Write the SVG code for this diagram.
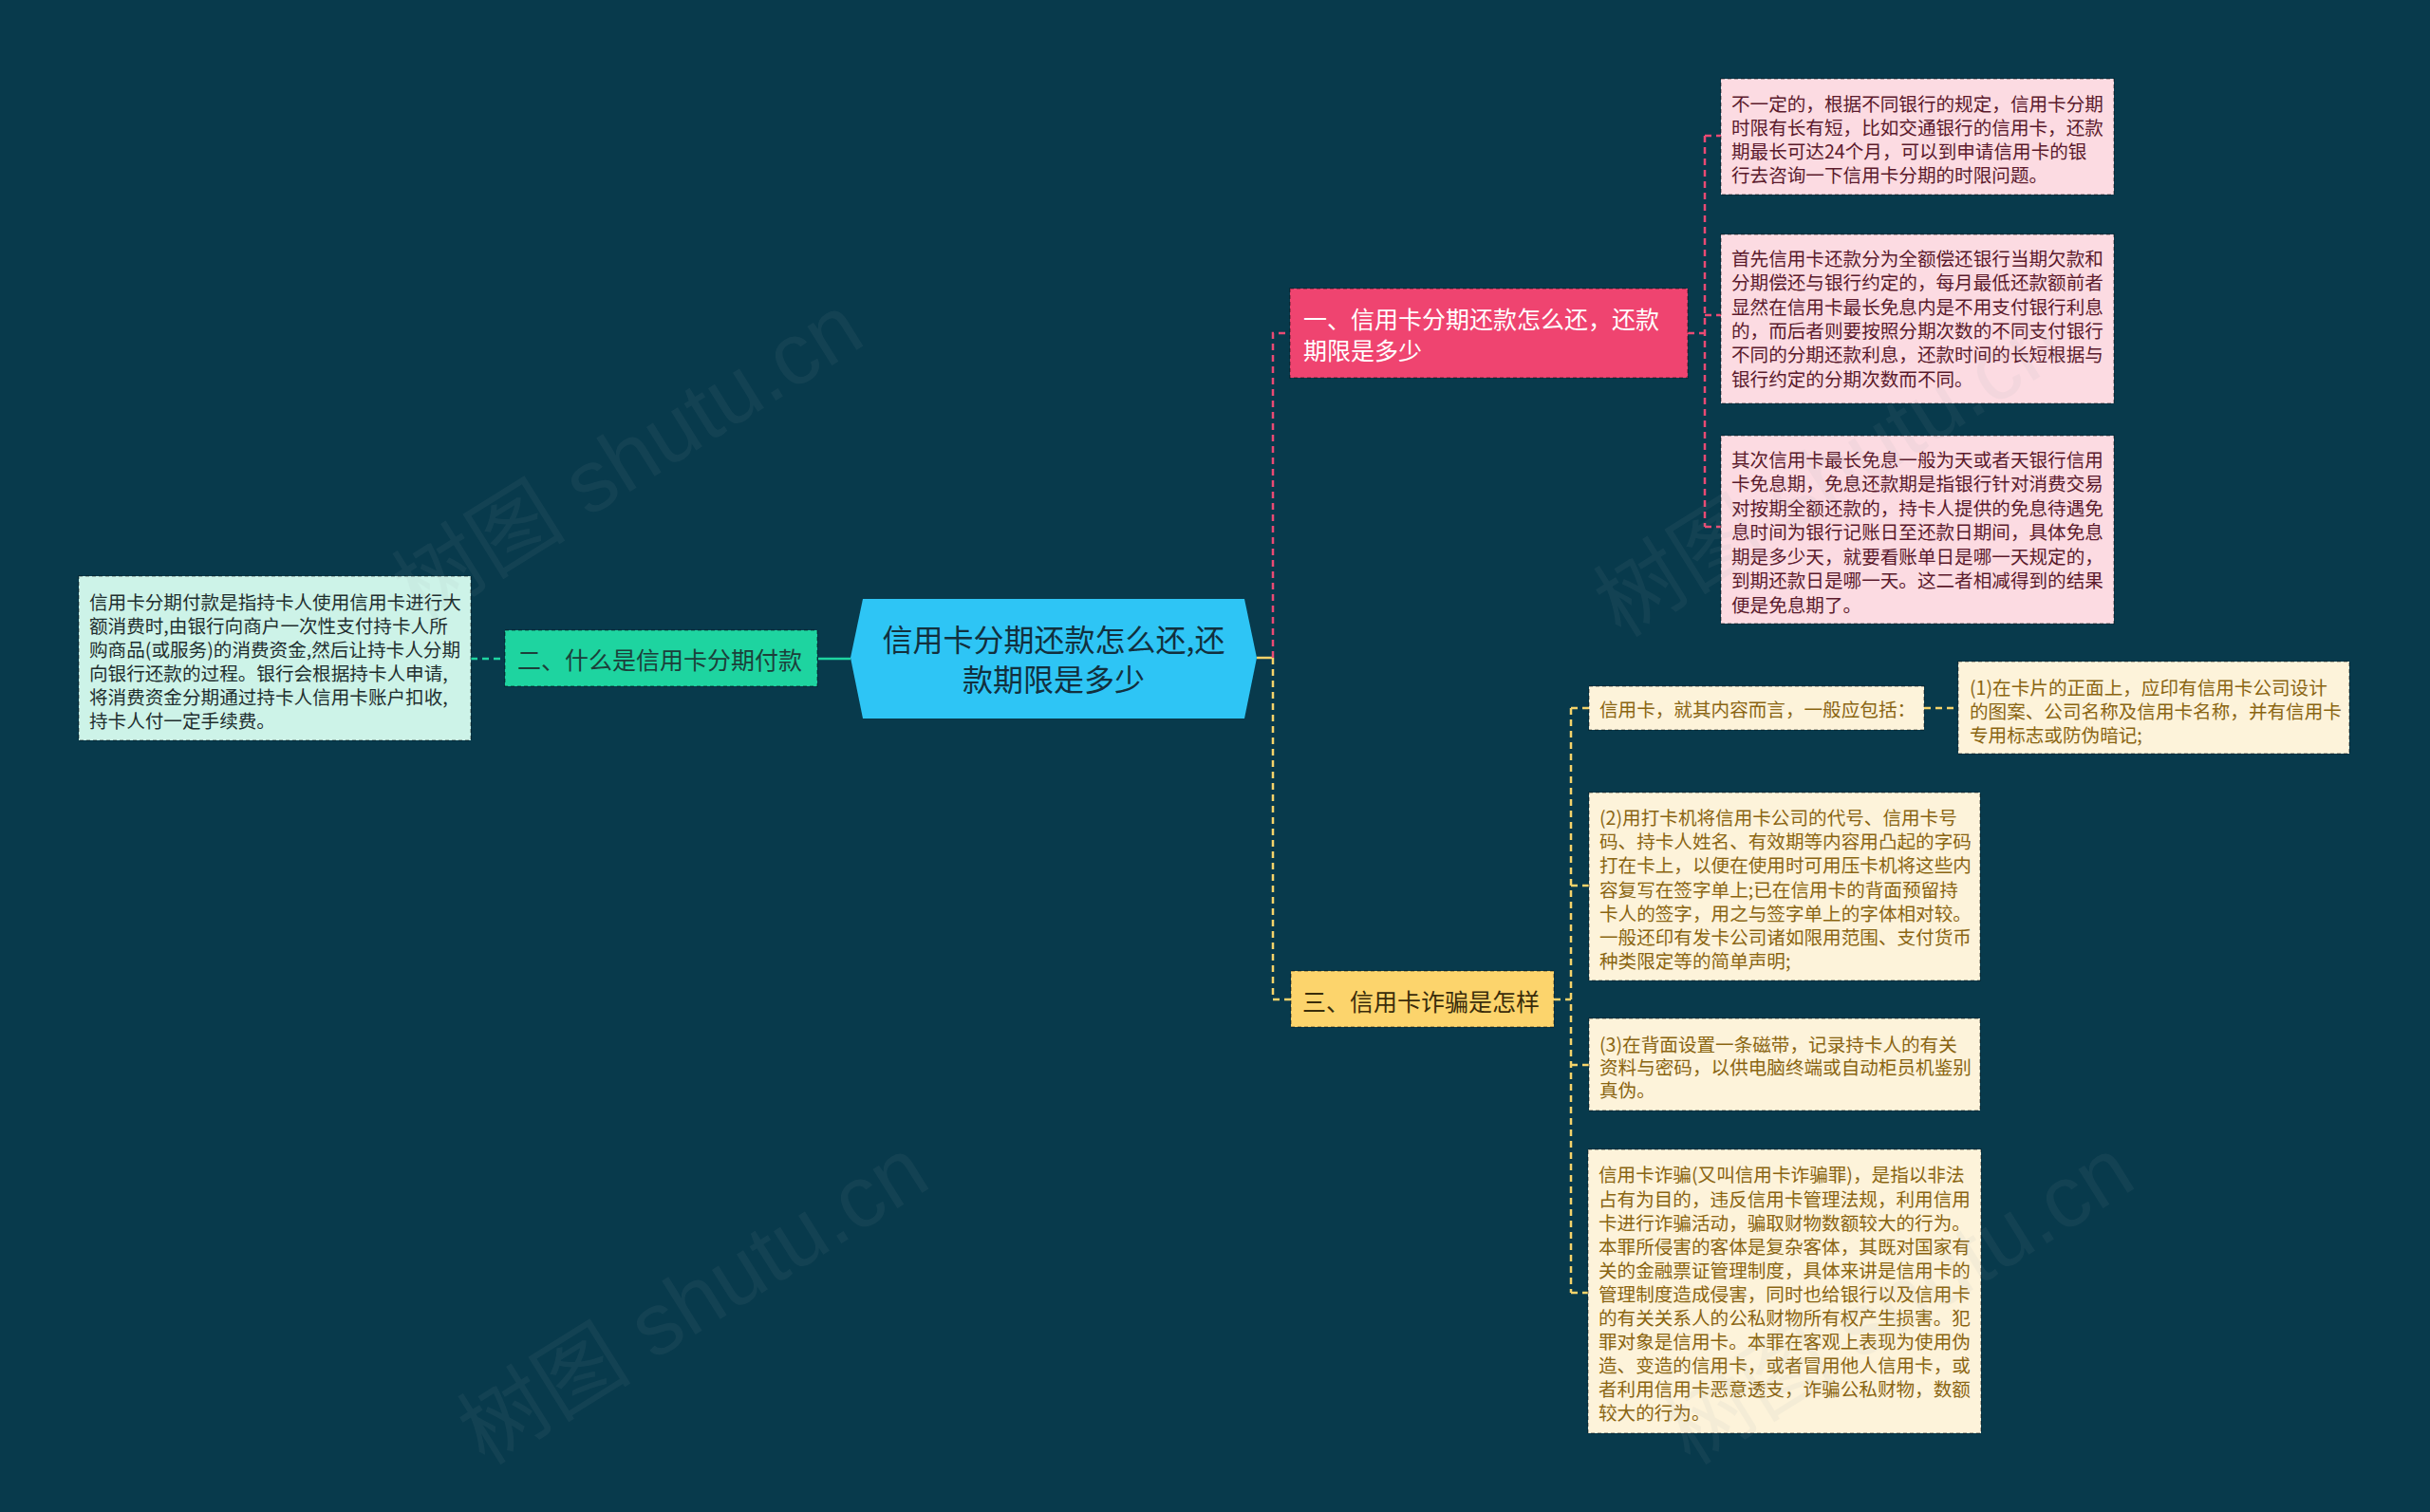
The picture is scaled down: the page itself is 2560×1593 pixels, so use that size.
<svg xmlns="http://www.w3.org/2000/svg" width="2560" height="1593" viewBox="0 0 2560 1593">
<style>
text{font-family:"Noto Sans CJK SC","Noto Sans",sans-serif;dominant-baseline:central}
.box{stroke:rgba(0,0,0,0.35);stroke-width:1.5;stroke-dasharray:4 3}
.leaf{font-size:19.6px}
.pk{fill:#5b1a2c}
.yl{fill:#8a6512}
.mt{fill:#1f2f2f}
.cp{fill:none;stroke:#ea4a73;stroke-width:2.5;stroke-dasharray:7 5}
.cy{fill:none;stroke:#f5d36a;stroke-width:2.5;stroke-dasharray:7 5}
.ct{fill:none;stroke:#1ed4a0;stroke-width:2.5}
.wm{font-family:"Liberation Sans","Noto Sans CJK SC",sans-serif;font-size:92px;fill:#9aa6aa;opacity:0.08}
</style>
<rect width="2560" height="1593" fill="#083a4c"/>
<g id="connectors">
<path class="ct" d="M862 694 H896"/>
<path class="ct" d="M496 694 H532" stroke-dasharray="7 5"/>
<path d="M1324 693 H1341" fill="none" stroke="#f5d36a" stroke-width="2.5"/>
<path class="cp" d="M1341 693 V351 H1359"/>
<path class="cy" d="M1341 693 V1053 H1360"/>
<path class="cp" d="M1778 351 H1796 M1796 143 V555 M1796 143 H1813 M1796 332 H1813 M1796 555 H1813"/>
<path class="cy" d="M1637 1053 H1655 M1655 746 V1362 M1655 746 H1674 M1655 933 H1674 M1655 1122 H1674 M1655 1362 H1673 M2027 746 H2063"/>
</g>
<g id="center">
<polygon points="909,631 1311,631 1324,693 1311,757 909,757 896,693" fill="#2ec5f5"/>
<text x="1110" y="672" font-size="32" fill="#12303e" text-anchor="middle">信用卡分期还款怎么还,还</text>
<text x="1110" y="714" font-size="32" fill="#12303e" text-anchor="middle">款期限是多少</text>
</g>
<g id="n2">
<rect class="box" x="532" y="664" width="329" height="59" fill="#1ed4a0"/>
<text x="545" y="694" font-size="25" fill="#1c3f3a">二、什么是信用卡分期付款</text>
</g>
<g id="n2-leaf">
<rect class="box" x="83" y="607" width="413" height="173" fill="#cdf3e8"/>
<text class="leaf mt" x="94"><tspan x="94" y="633">信用卡分期付款是指持卡人使用信用卡进行大</tspan><tspan x="94" y="658">额消费时,由银行向商户一次性支付持卡人所</tspan><tspan x="94" y="683">购商品(或服务)的消费资金,然后让持卡人分期</tspan><tspan x="94" y="708">向银行还款的过程。银行会根据持卡人申请,</tspan><tspan x="94" y="733">将消费资金分期通过持卡人信用卡账户扣收,</tspan><tspan x="94" y="758">持卡人付一定手续费。</tspan></text>
</g>
<g id="n1">
<rect class="box" x="1359" y="304" width="419" height="94" fill="#ef4470"/>
<text x="1373" y="335" font-size="25" fill="#ffffff">一、信用卡分期还款怎么还，还款</text>
<text x="1373" y="368" font-size="25" fill="#ffffff">期限是多少</text>
</g>
<g id="n1-leaf1">
<rect class="box" x="1813" y="83" width="414" height="122" fill="#fcdbe2"/>
<text class="leaf pk"><tspan x="1824" y="108">不一定的，根据不同银行的规定，信用卡分期</tspan><tspan x="1824" y="133">时限有长有短，比如交通银行的信用卡，还款</tspan><tspan x="1824" y="158">期最长可达24个月，可以到申请信用卡的银</tspan><tspan x="1824" y="183">行去咨询一下信用卡分期的时限问题。</tspan></text>
</g>
<g id="n1-leaf2">
<rect class="box" x="1813" y="247" width="414" height="178" fill="#fcdbe2"/>
<text class="leaf pk"><tspan x="1824" y="271">首先信用卡还款分为全额偿还银行当期欠款和</tspan><tspan x="1824" y="296">分期偿还与银行约定的，每月最低还款额前者</tspan><tspan x="1824" y="322">显然在信用卡最长免息内是不用支付银行利息</tspan><tspan x="1824" y="347">的，而后者则要按照分期次数的不同支付银行</tspan><tspan x="1824" y="372">不同的分期还款利息，还款时间的长短根据与</tspan><tspan x="1824" y="398">银行约定的分期次数而不同。</tspan></text>
</g>
<g id="n1-leaf3">
<rect class="box" x="1813" y="459" width="414" height="198" fill="#fcdbe2"/>
<text class="leaf pk"><tspan x="1824" y="483">其次信用卡最长免息一般为天或者天银行信用</tspan><tspan x="1824" y="508">卡免息期，免息还款期是指银行针对消费交易</tspan><tspan x="1824" y="534">对按期全额还款的，持卡人提供的免息待遇免</tspan><tspan x="1824" y="559">息时间为银行记账日至还款日期间，具体免息</tspan><tspan x="1824" y="585">期是多少天，就要看账单日是哪一天规定的，</tspan><tspan x="1824" y="610">到期还款日是哪一天。这二者相减得到的结果</tspan><tspan x="1824" y="636">便是免息期了。</tspan></text>
</g>
<g id="n3">
<rect class="box" x="1360" y="1023" width="277" height="59" fill="#fcd46c"/>
<text x="1372" y="1054" font-size="25" fill="#3a2c0a">三、信用卡诈骗是怎样</text>
</g>
<g id="n3-a">
<rect class="box" x="1674" y="723" width="353" height="46" fill="#fdf3da"/>
<text class="leaf yl" x="1685" y="746">信用卡，就其内容而言，一般应包括：</text>
</g>
<g id="n3-a1">
<rect class="box" x="2063" y="697" width="412" height="97" fill="#fdf3da"/>
<text class="leaf yl"><tspan x="2075" y="723">(1)在卡片的正面上，应印有信用卡公司设计</tspan><tspan x="2075" y="748">的图案、公司名称及信用卡名称，并有信用卡</tspan><tspan x="2075" y="773">专用标志或防伪暗记;</tspan></text>
</g>
<g id="n3-b">
<rect class="box" x="1674" y="835" width="412" height="198" fill="#fdf3da"/>
<text class="leaf yl"><tspan x="1685" y="860">(2)用打卡机将信用卡公司的代号、信用卡号</tspan><tspan x="1685" y="885">码、持卡人姓名、有效期等内容用凸起的字码</tspan><tspan x="1685" y="910">打在卡上，以便在使用时可用压卡机将这些内</tspan><tspan x="1685" y="936">容复写在签字单上;已在信用卡的背面预留持</tspan><tspan x="1685" y="961">卡人的签字，用之与签字单上的字体相对较。</tspan><tspan x="1685" y="986">一般还印有发卡公司诸如限用范围、支付货币</tspan><tspan x="1685" y="1011">种类限定等的简单声明;</tspan></text>
</g>
<g id="n3-c">
<rect class="box" x="1674" y="1073" width="412" height="97" fill="#fdf3da"/>
<text class="leaf yl"><tspan x="1685" y="1099">(3)在背面设置一条磁带，记录持卡人的有关</tspan><tspan x="1685" y="1123">资料与密码，以供电脑终端或自动柜员机鉴别</tspan><tspan x="1685" y="1147">真伪。</tspan></text>
</g>
<g id="n3-d">
<rect class="box" x="1673" y="1211" width="414" height="299" fill="#fdf3da"/>
<text class="leaf yl"><tspan x="1684" y="1236">信用卡诈骗(又叫信用卡诈骗罪)，是指以非法</tspan><tspan x="1684" y="1262">占有为目的，违反信用卡管理法规，利用信用</tspan><tspan x="1684" y="1287">卡进行诈骗活动，骗取财物数额较大的行为。</tspan><tspan x="1684" y="1312">本罪所侵害的客体是复杂客体，其既对国家有</tspan><tspan x="1684" y="1337">关的金融票证管理制度，具体来讲是信用卡的</tspan><tspan x="1684" y="1362">管理制度造成侵害，同时也给银行以及信用卡</tspan><tspan x="1684" y="1387">的有关关系人的公私财物所有权产生损害。犯</tspan><tspan x="1684" y="1412">罪对象是信用卡。本罪在客观上表现为使用伪</tspan><tspan x="1684" y="1437">造、变造的信用卡，或者冒用他人信用卡，或</tspan><tspan x="1684" y="1462">者利用信用卡恶意透支，诈骗公私财物，数额</tspan><tspan x="1684" y="1487">较大的行为。</tspan></text>
</g>
<g id="watermarks">
<text class="wm" x="0" y="0" text-anchor="middle" transform="translate(661,482) rotate(-32)">树图 shutu.cn</text>
<text class="wm" x="0" y="0" text-anchor="middle" transform="translate(1927,498) rotate(-32)">树图 shutu.cn</text>
<text class="wm" x="0" y="0" text-anchor="middle" transform="translate(730,1370) rotate(-32)">树图 shutu.cn</text>
<text class="wm" x="0" y="0" text-anchor="middle" transform="translate(2000,1370) rotate(-32)">树图 shutu.cn</text>
</g>
</svg>
